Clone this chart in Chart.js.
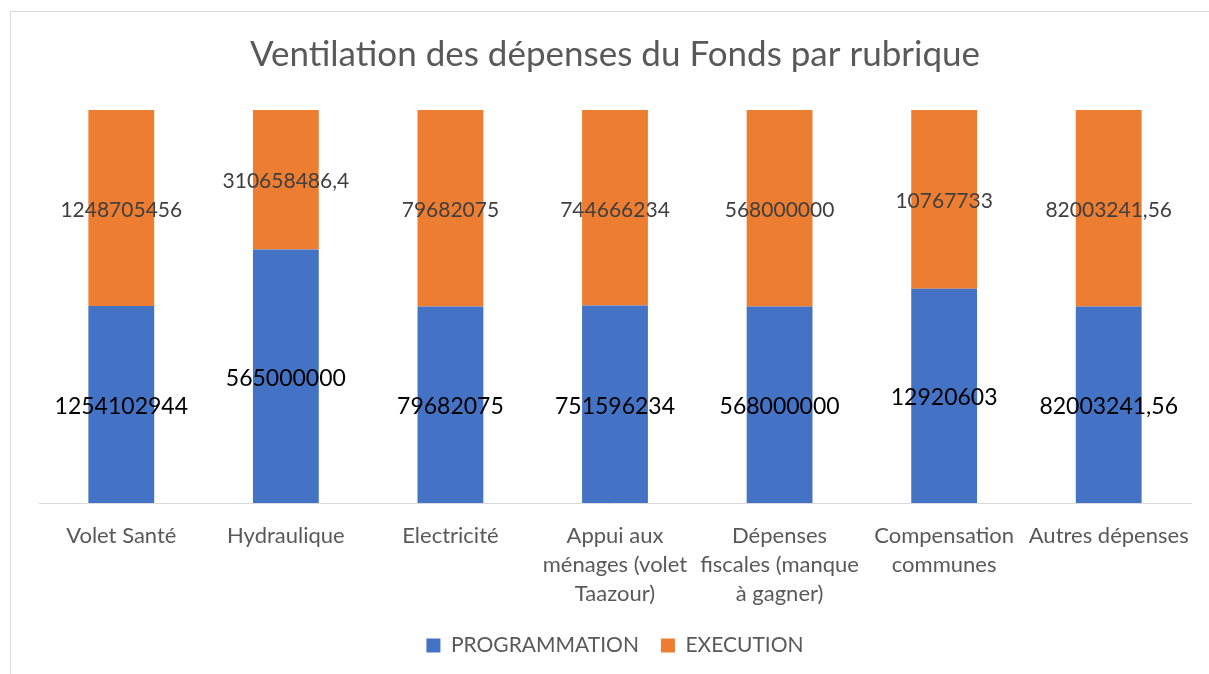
<!DOCTYPE html>
<html>
<head>
    <title>Ventilation des dépenses du Fonds par rubrique</title>
    <style>
        html, body {
            margin: 0;
            padding: 0;
            overflow: hidden;
            background: #fff;
        }
        #frame {
            position: absolute;
            left: 10px;
            top: 11px;
            width: 1220px;
            height: 700px;
            border: 1px solid #d9d9d9;
        }
        #wrap {
            position: absolute;
            left: 0;
            top: 0;
            width: 1209px;
            height: 674px;
        }
    </style>
</head>
<body>
    <div id="frame"></div>
    <div id="wrap"><canvas id="chart" width="1209" height="674"></canvas></div>
    <script src="https://cdn.jsdelivr.net/npm/chart.js"></script>
    <script>
        const categories = [
            'Volet Santé',
            'Hydraulique',
            'Electricité',
            ['Appui aux', 'ménages (volet', 'Taazour)'],
            ['Dépenses', 'fiscales (manque', 'à gagner)'],
            ['Compensation', 'communes'],
            'Autres dépenses'
        ];
        const programmation = [1254102944, 565000000, 79682075, 751596234, 568000000, 12920603, 82003241.56];
        const execution = [1248705456, 310658486.4, 79682075, 744666234, 568000000, 10767733, 82003241.56];

        // 100% stacked: share of each rubric total
        const totals = programmation.map((v, i) => v + execution[i]);
        const progPct = programmation.map((v, i) => v / totals[i] * 100);
        const execPct = execution.map((v, i) => v / totals[i] * 100);

        const fontFamily = 'Lato, "Open Sans", sans-serif';

        function fmt(n) {
            return String(n).replace('.', ',');
        }

        const valueLabels = {
            id: 'valueLabels',
            afterDatasetsDraw(chart) {
                const ctx = chart.ctx;
                ctx.save();
                ctx.textAlign = 'center';
                ctx.textBaseline = 'middle';
                chart.data.datasets.forEach((ds, di) => {
                    const meta = chart.getDatasetMeta(di);
                    meta.data.forEach((bar, i) => {
                        const cy = (bar.y + bar.base) / 2;
                        ctx.fillStyle = ds.labelColor;
                        ctx.font = ds.labelSize + 'px ' + fontFamily;
                        ctx.fillText(fmt(ds.raw[i]), bar.x, cy + 2);
                    });
                });
                ctx.restore();
            }
        };

        new Chart(document.getElementById('chart').getContext('2d'), {
            type: 'bar',
            data: {
                labels: categories,
                datasets: [{
                    label: 'PROGRAMMATION',
                    data: progPct,
                    raw: programmation,
                    backgroundColor: '#4472C4',
                    labelColor: '#000000',
                    labelSize: 23,
                    categoryPercentage: 1,
                    barPercentage: 0.4
                }, {
                    label: 'EXECUTION',
                    data: execPct,
                    raw: execution,
                    backgroundColor: '#ED7D31',
                    labelColor: '#404040',
                    labelSize: 21,
                    categoryPercentage: 1,
                    barPercentage: 0.4
                }]
            },
            options: {
                responsive: false,
                animation: false,
                layout: {
                    padding: { left: 39, right: 18, top: 0, bottom: 8 }
                },
                plugins: {
                    title: {
                        display: true,
                        text: 'Ventilation des dépenses du Fonds par rubrique',
                        color: '#595959',
                        font: { family: fontFamily, size: 35, weight: 'normal' },
                        padding: { top: 34, bottom: 34 }
                    },
                    legend: {
                        position: 'bottom',
                        labels: {
                            color: '#595959',
                            boxWidth: 14,
                            boxHeight: 14,
                            padding: 22,
                            font: { family: fontFamily, size: 21 }
                        }
                    },
                    tooltip: { enabled: false }
                },
                scales: {
                    x: {
                        stacked: true,
                        grid: { display: false },
                        border: { display: true, color: '#d9d9d9', width: 1 },
                        ticks: {
                            color: '#595959',
                            maxRotation: 0,
                            autoSkip: false,
                            padding: 11,
                            font: { family: fontFamily, size: 22, lineHeight: 1.3 }
                        },
                        afterFit(scale) {
                            scale.height = 110;
                        }
                    },
                    y: {
                        stacked: true,
                        display: false,
                        min: 0,
                        max: 100
                    }
                }
            },
            plugins: [valueLabels]
        });
    </script>
</body>
</html>
